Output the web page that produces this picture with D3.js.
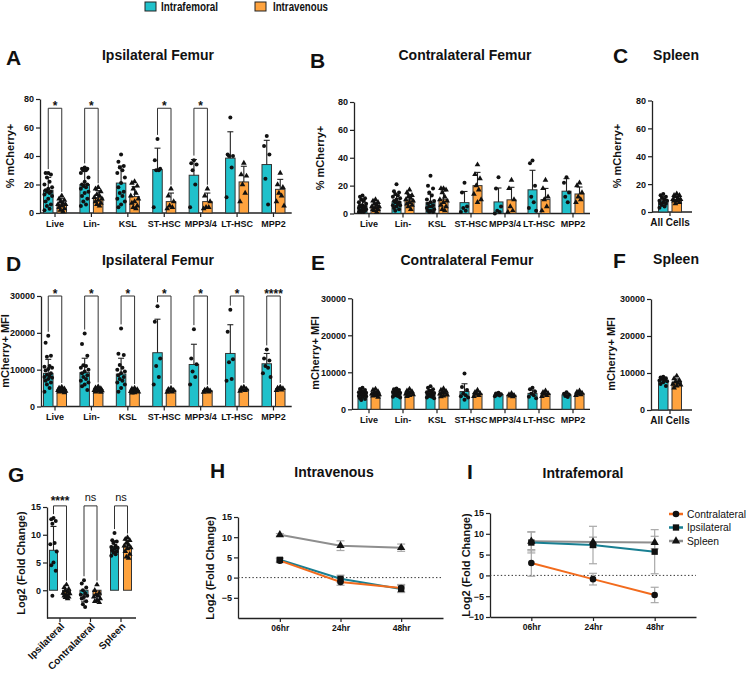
<!DOCTYPE html>
<html><head><meta charset="utf-8">
<script src="https://cdn.jsdelivr.net/npm/d3@7"></script>
<style>
body{margin:0;background:#fff;}
svg{display:block;font-family:"Liberation Sans",Arial,Helvetica,sans-serif;}
</style></head><body>
<svg id="c" width="748" height="676"></svg>
<script>
// ---------------- DATA ----------------
const catsFemur = ["Live","Lin-","KSL","ST-HSC","MPP3/4","LT-HSC","MPP2"];
const catsSpleen = ["All Cells"];
const legendNames = ["Intrafemoral","Intravenous"];

// A: Ipsilateral femur % mCherry+
const aIfMean = [16, 20, 21, 30.5, 26.5, 38.5, 34];
const aIfSD   = [9, 10, 12, 15, 11, 18.5, 17];
const aIvMean = [6.3, 10.7, 11.5, 8, 8, 21.8, 16.6];
const aIvSD   = [4, 5, 7, 6, 6, 11, 7];
const aIfPts = [[28,28,27,25,22,20,18,17,16,15,15,14,13,12,10,8,6,5,3,2],[32,31,31,30,30,28,25,22,20,20,19,18,17,15,14,12,10,8,6,5],[41,36,33,32,30,28,25,21,18,15,14,12,10,8,6,4],[52,37,31,30,30,4],[37,35,34,30,20,4],[67,41,40,40,32,11],[54,47,41,24,6]];
const aIvPts = [[12,10,9,8,7,6,6,5,4,3,2,1],[18,17,15,13,12,11,10,9,8,7,6,5],[22,21,19,17,14,12,10,8,7,5,4,3],[17,12,8,5,4,3],[17,12,8,4,4,3],[35,27,26,20,14,8],[28,20,18,14,12,8,5]];
const aSig = ["*","*","","*","*","",""];

// B: Contralateral femur % mCherry+
const bIfMean = [5.5, 8.5, 7.8, 7.8, 8.3, 17, 16];
const bIfSD   = [3.5, 4.5, 6, 8, 10, 14, 9];
const bIvMean = [5.3, 9.6, 10.2, 20, 9.8, 10, 14];
const bIvSD   = [2.8, 4, 6, 9.5, 9, 8, 5];
const bIfPts = [[13,12,11,10,9,8,7,6,6,5,5,4,4,3,3,2,2,1,1,1],[21,16,15,14,13,12,11,10,9,8,8,7,6,6,5,4,3,2],[27,20,18,15,13,10,9,8,7,6,5,5,4,3,2,2,1,1],[22,15,5,4,2,1],[26,18,5,2,1,0],[38,36,20,12,8,4,2],[26,22,15,12,8]];
const bIvPts = [[10,9,8,7,6,5,5,4,3,3,2,1],[17,15,13,12,11,10,9,8,7,6,5,3],[18,18,17,15,12,10,9,8,6,5,3,2],[35,28,25,20,17,14,10,8],[24,18,10,5,2,1],[24,18,12,10,5,2],[22,20,15,12,10,8]];

// C: Spleen % mCherry+
const cIfMean = [8], cIfSD = [3], cIvMean = [9], cIvSD = [2.5];
const cIfPts = [[13,12,11,10,9,8,8,7,6,6,5,4,3]];
const cIvPts = [[13,12,12,11,10,9,9,8,8,7,6]];

// D: Ipsilateral femur MFI
const dIfMean = [9000, 9200, 8800, 14600, 11400, 14400, 11600];
const dIfSD   = [3800, 3900, 4300, 9100, 5500, 7800, 2800];
const dIvMean = [4500, 4600, 4300, 4400, 4300, 4700, 4800];
const dIvSD   = [500, 500, 500, 500, 400, 500, 400];
const dIfPts = [[19200,17300,13800,13500,11000,10800,10500,10200,9800,9000,8600,8300,8000,7800,7500,7000,6500,6000,5000,4000],[19800,17000,13800,11200,11000,10500,10000,9500,9000,8500,8000,7500,7000,6500,6000,5500,4500],[21200,14300,14000,11300,10500,10000,9500,9000,8500,8000,7500,7000,6500,6000,5000,4000],[27200,23000,13000,11000,8000,6000],[21000,13000,11500,9500,8000,6000],[26300,20300,12800,12000,7500,7000],[15500,13000,12500,11000,10500,9000,8000]];
const dIvPts = [[5300,5000,4800,4600,4500,4400,4200,4100,4000,3800],[5400,5100,4900,4700,4500,4400,4300,4200,4000,3900],[5000,4800,4600,4400,4200,4100,4000,3800,3700],[5000,4700,4400,4200,4000,3900],[4800,4500,4300,4200,4000,3900],[5300,5000,4700,4500,4400,4200],[5300,5000,4900,4700,4500,4400]];
const dSig = ["*","*","*","*","*","*","****"];

// E: Contralateral femur MFI
const eIfMean = [4200, 4400, 4300, 4800, 4000, 4300, 3900];
const eIfSD   = [900, 800, 1000, 2100, 400, 900, 500];
const eIvMean = [4300, 4400, 4400, 4200, 3800, 4200, 4300];
const eIvSD   = [700, 600, 700, 600, 400, 600, 500];
const eIfPts = [[5800,5500,5200,5000,4800,4600,4500,4300,4200,4000,3900,3800,3600,3500,3300,3000,2800,2500],[5600,5400,5200,5000,4800,4700,4500,4400,4200,4000,3800,3600,3400,3200],[6200,5800,5400,5000,4800,4600,4400,4200,4000,3800,3600,3400,3200,3000],[9700,6000,5200,4300,3800,3500,3200,2600],[4500,4300,4100,3900,3700,3500],[5800,5400,4800,4200,3800,3400,3000],[4600,4200,3900,3600,3300]];
const eIvPts = [[5500,5200,4800,4500,4300,4200,4000,3800,3600,3300],[5500,5000,4800,4600,4400,4200,4000,3800,3500],[5600,5200,4900,4600,4400,4200,3900,3600,3400],[5200,4600,4300,4100,3800,3500],[4300,4000,3800,3600,3400],[5000,4600,4300,4100,3800,3500],[5000,4700,4400,4200,4000,3800]];

// F: Spleen MFI
const fIfMean = [8000], fIfSD = [800], fIvMean = [7500], fIvSD = [900];
const fIfPts = [[9000,8800,8600,8500,8200,8000,7800,7500,7000,6500]];
const fIvPts = [[9200,8500,8000,7600,7300,7000,6800,6500,6000]];

// G: Log2 fold change
const gCats = ["Ipsilateral","Contralateral","Spleen"];
const gIfMean = [7.2, -0.8, 7.9], gIfSD = [4.3, 1.3, 1.0];
const gIvMean = [-0.8, -0.9, 7.8], gIvSD = [0.6, 0.9, 1.2];
const gIfPts = [[13,12.8,12.5,12,8.5,8.3,7,5,4.5,3.5,-1],[1.8,1.2,0.5,0,-0.5,-1,-1.5,-2,-2.5,-3,-0.8,-1.2],[10.3,9,8.8,8.5,8,7.8,7.6,7.5,7.2,7,6.8,6.5,6.2]];
const gIvPts = [[1,0.5,0.2,0,-0.3,-0.5,-0.8,-1,-1.2,-1.5,-1.3,-0.6],[1,0,-0.5,-0.8,-1,-1.2,-1.5,-2,-2.2,-1.8],[9.5,9.2,9,8.5,8.2,8,7.7,7.5,7,6.5,6,5.8]];
const gSig = ["****","ns","ns"];

// H / I: time courses
const times = ["06hr","24hr","48hr"];
const seriesNames = ["Contralateral","Ipsilateral","Spleen"];
const hContra = [4.2, -1.1, -2.6], hContraErr = [0.5, 0.8, 0.9];
const hIpsi   = [4.4, -0.3, -2.8], hIpsiErr   = [0.5, 0.9, 0.9];
const hSpleen = [10.6, 7.9, 7.4],  hSpleenErr = [0.3, 1.2, 0.9];
const iContra = [3.0, -0.9, -4.7], iContraErr = [3.2, 1.4, 1.85];
const iIpsi   = [7.9, 7.3, 5.7],   iIpsiErr   = [2.5, 4.5, 5.3];
const iSpleen = [8.2, 8.0, 7.9],   iSpleenErr = [2.3, 1.2, 1.5];

// ---------------- STYLE ----------------
const TEAL = "#20C1CB", ORANGE = "#FFA33E";
const LINE_C = ["#F26B1D", "#197F92", "#8E8E8E"];
const AX = "#222";

const svg = d3.select("#c");

function styleAxis(sel){
  sel.select(".domain").attr("stroke",AX).attr("stroke-width",1.3);
  sel.selectAll(".tick line").attr("stroke",AX).attr("stroke-width",1.2);
  sel.selectAll(".tick text").attr("fill","#111").attr("font-size",9).attr("font-weight","bold");
}
const jit = [0,-2.8,2.8,-1.4,1.4,-4,4];

function barPanel(o){
  const g = svg.append("g");
  const x = d3.scaleBand().domain(o.cats).range(o.xr);
  const y = d3.scaleLinear().domain(o.yd).range(o.yr);
  const cx = c => x(c) + x.bandwidth()/2;
  const base = o.base !== undefined ? o.base : o.yd[0];
  const axY = y(o.yd[0]);
  const ya = g.append("g").attr("transform",`translate(${o.ax},0)`)
    .call(d3.axisLeft(y).tickValues(o.ticks).tickSize(4).tickSizeOuter(0).tickPadding(2).tickFormat(d=>d));
  styleAxis(ya);
  g.append("line").attr("x1",o.ax).attr("x2",o.xEnd).attr("y1",axY).attr("y2",axY).attr("stroke",AX).attr("stroke-width",1.3);
  o.cats.forEach(c=>{
    g.append("line").attr("x1",cx(c)).attr("x2",cx(c)).attr("y1",axY).attr("y2",axY+4).attr("stroke",AX).attr("stroke-width",1.2);
  });
  if(o.rotate){
    o.cats.forEach(c=>{
      g.append("text").attr("transform",`translate(${cx(c)+5},${axY+9}) rotate(-45)`)
        .attr("text-anchor","end").attr("font-size",o.catFont||11).attr("font-weight","bold").attr("fill","#111").text(c);
    });
  } else {
    o.cats.forEach(c=>{
      g.append("text").attr("x",cx(c)).attr("y",axY+13.5).attr("text-anchor","middle")
        .attr("font-size",o.catFont||9).attr("font-weight","bold").attr("fill","#111").text(c);
    });
  }
  const series = [
    {mean:o.ifMean, sd:o.ifSD, pts:o.ifPts, off:-o.off, fill:TEAL, tri:false},
    {mean:o.ivMean, sd:o.ivSD, pts:o.ivPts, off:o.off, fill:ORANGE, tri:true}
  ];
  series.forEach(s=>{
    o.cats.forEach((c,i)=>{
      const bx = cx(c)+s.off;
      const m = s.mean[i], sd = s.sd[i];
      const y1 = y(Math.max(m,base)), y2 = y(Math.min(m,base));
      g.append("rect").attr("x",bx-o.bw/2).attr("y",y1).attr("width",o.bw).attr("height",Math.max(0,y2-y1))
        .attr("fill",s.fill).attr("stroke","#333").attr("stroke-width",1);
      const e = m >= base ? m+sd : m-sd;
      g.append("line").attr("x1",bx).attr("x2",bx).attr("y1",y(m)).attr("y2",y(e)).attr("stroke","#222").attr("stroke-width",1.1);
      g.append("line").attr("x1",bx-3).attr("x2",bx+3).attr("y1",y(e)).attr("y2",y(e)).attr("stroke","#222").attr("stroke-width",1.1);
      const sorted = s.pts[i].slice().sort((a,b)=>b-a);
      sorted.forEach((v,k)=>{
        const px = bx + jit[k%jit.length]*o.bw/10;
        if(s.tri){
          g.append("path").attr("d",d3.symbol(d3.symbolTriangle).size(14)()).attr("transform",`translate(${px},${y(v)})`).attr("fill","#111");
        } else {
          g.append("circle").attr("cx",px).attr("cy",y(v)).attr("r",2).attr("fill","#111");
        }
      });
    });
  });
  if(o.sig){
    o.cats.forEach((c,i)=>{
      if(!o.sig[i]) return;
      const xl = cx(c)-o.off, xr = cx(c)+o.off;
      const topL = Math.max(d3.max(o.ifPts[i]), o.ifMean[i]+o.ifSD[i]);
      const topR = Math.max(d3.max(o.ivPts[i]), o.ivMean[i]+o.ivSD[i]);
      const yt = y(o.sigTop);
      g.append("path").attr("d",`M${xl},${y(topL)-4}V${yt}H${xr}V${y(topR)-4}`).attr("fill","none").attr("stroke","#333").attr("stroke-width",1);
      const ns = o.sig[i]==="ns";
      g.append("text").attr("x",(xl+xr)/2).attr("y", ns ? yt-5 : yt+ (o.starDy||2)).attr("text-anchor","middle")
        .attr("font-size", ns?11:12).attr("font-weight", ns?"normal":"bold").attr("fill","#111").text(o.sig[i]);
    });
  }
  return g;
}

function linePanel(o){
  const g = svg.append("g");
  const x = d3.scalePoint().domain(times).range(o.xr).padding(o.pad);
  const y = d3.scaleLinear().domain([-10,15]).range(o.yr);
  const ya = g.append("g").attr("transform",`translate(${o.xr[0]},0)`)
    .call(d3.axisLeft(y).tickValues(o.ticks).tickSize(4).tickSizeOuter(0).tickPadding(2));
  styleAxis(ya);
  const xa = g.append("g").attr("transform",`translate(0,${y(-10)})`)
    .call(d3.axisBottom(x).tickSize(4).tickSizeOuter(0).tickPadding(3));
  styleAxis(xa);
  xa.selectAll(".tick text").attr("font-size",8.5);
  g.append("line").attr("x1",o.xr[0]).attr("x2",o.xr[1]).attr("y1",y(0)).attr("y2",y(0))
    .attr("stroke","#333").attr("stroke-width",1).attr("stroke-dasharray","1.4,2.2");
  const ser = [
    {name:seriesNames[2], v:o.spleen, e:o.spleenErr, col:LINE_C[2], sym:d3.symbolTriangle, size:30},
    {name:seriesNames[1], v:o.ipsi, e:o.ipsiErr, col:LINE_C[1], sym:d3.symbolSquare, size:40},
    {name:seriesNames[0], v:o.contra, e:o.contraErr, col:LINE_C[0], sym:d3.symbolCircle, size:34}
  ];
  ser.forEach(s=>{
    times.forEach((t,i)=>{
      const lo = y(s.v[i]-s.e[i]), hi = y(s.v[i]+s.e[i]);
      g.append("line").attr("x1",x(t)).attr("x2",x(t)).attr("y1",lo).attr("y2",hi).attr("stroke","#a9a9a9").attr("stroke-width",1.2);
      [lo,hi].forEach(yy=>g.append("line").attr("x1",x(t)-4).attr("x2",x(t)+4).attr("y1",yy).attr("y2",yy).attr("stroke","#a9a9a9").attr("stroke-width",1.2));
    });
  });
  ser.forEach(s=>{
    g.append("path").datum(s.v).attr("d",d3.line().x((d,i)=>x(times[i])).y(d=>y(d)))
      .attr("fill","none").attr("stroke",s.col).attr("stroke-width",2);
  });
  ser.forEach(s=>{
    s.v.forEach((d,i)=>{
      g.append("path").attr("d",d3.symbol(s.sym).size(s.size)()).attr("transform",`translate(${x(times[i])},${y(d)})`).attr("fill","#111");
    });
  });
  if(o.legend){
    [ser[2],ser[1],ser[0]].forEach((s,k)=>{
      const ly = o.legend[1] + k*13.5;
      g.append("line").attr("x1",o.legend[0]).attr("x2",o.legend[0]+14).attr("y1",ly).attr("y2",ly).attr("stroke",s.col).attr("stroke-width",2.5);
      g.append("path").attr("d",d3.symbol(s.sym).size(s.size)()).attr("transform",`translate(${o.legend[0]+7},${ly})`).attr("fill","#111");
      g.append("text").attr("x",o.legend[0]+18).attr("y",ly+3.8).attr("font-size",10.3).attr("fill","#111").text(s.name);
    });
  }
}

function label(txt,x,y,size,anchor){
  svg.append("text").attr("x",x).attr("y",y).attr("font-size",size).attr("font-weight","bold")
    .attr("text-anchor",anchor||"start").attr("fill","#111").text(txt);
}
function ylabel(txt,x,y){
  svg.append("text").attr("transform",`translate(${x+4},${y}) rotate(-90)`).attr("text-anchor","middle")
    .attr("font-size",11).attr("font-weight","bold").attr("fill","#111").text(txt);
}

// ---------------- LEGEND ----------------
svg.append("rect").attr("x",145).attr("y",2).attr("width",11).attr("height",9).attr("fill",TEAL).attr("stroke","#222").attr("stroke-width",1);
svg.append("text").attr("x",161).attr("y",10.5).attr("font-size",12.5).attr("font-weight","bold").attr("textLength",57).attr("lengthAdjust","spacingAndGlyphs").attr("fill","#111").text(legendNames[0]);
svg.append("rect").attr("x",255).attr("y",2).attr("width",11).attr("height",9).attr("fill",ORANGE).attr("stroke","#222").attr("stroke-width",1);
svg.append("text").attr("x",273).attr("y",10.5).attr("font-size",12.5).attr("font-weight","bold").attr("textLength",55).attr("lengthAdjust","spacingAndGlyphs").attr("fill","#111").text(legendNames[1]);

// ---------------- PANELS ----------------
barPanel({cats:catsFemur, xr:[36.8,291.7], xEnd:291.7, ax:40, yd:[0,80], yr:[213,99], ticks:[0,20,40,60,80], bw:9.5, off:6.75,
  ifMean:aIfMean, ifSD:aIfSD, ifPts:aIfPts, ivMean:aIvMean, ivSD:aIvSD, ivPts:aIvPts, sig:aSig, sigTop:73.5});
barPanel({cats:catsFemur, xr:[352,590], xEnd:590, ax:354, yd:[0,80], yr:[213.5,102], ticks:[0,20,40,60,80], bw:9, off:6.5,
  ifMean:bIfMean, ifSD:bIfSD, ifPts:bIfPts, ivMean:bIvMean, ivSD:bIvSD, ivPts:bIvPts});
barPanel({cats:catsSpleen, xr:[652,688], xEnd:692, ax:652, yd:[0,80], yr:[212,100.5], ticks:[0,20,40,60,80], bw:9.5, off:6.75, catFont:10,
  ifMean:cIfMean, ifSD:cIfSD, ifPts:cIfPts, ivMean:cIvMean, ivSD:cIvSD, ivPts:cIvPts});
barPanel({cats:catsFemur, xr:[36.8,291.7], xEnd:291.7, ax:41, yd:[0,30000], yr:[406.5,296], ticks:[0,10000,20000,30000], bw:9.5, off:6.75,
  ifMean:dIfMean, ifSD:dIfSD, ifPts:dIfPts, ivMean:dIvMean, ivSD:dIvSD, ivPts:dIvPts, sig:dSig, sigTop:30000});
barPanel({cats:catsFemur, xr:[352,590], xEnd:590, ax:352, yd:[0,30000], yr:[409.3,298.3], ticks:[0,10000,20000,30000], bw:9, off:6.5,
  ifMean:eIfMean, ifSD:eIfSD, ifPts:eIfPts, ivMean:eIvMean, ivSD:eIvSD, ivPts:eIvPts});
barPanel({cats:catsSpleen, xr:[652,688], xEnd:692, ax:651, yd:[0,30000], yr:[410,299], ticks:[0,10000,20000,30000], bw:9.5, off:6.75, catFont:10,
  ifMean:fIfMean, ifSD:fIfSD, ifPts:fIfPts, ivMean:fIvMean, ivSD:fIvSD, ivPts:fIvPts});
barPanel({cats:gCats, xr:[44.75,136.25], xEnd:136, ax:47, yd:[-5,15], yr:[618,507], ticks:[0,5,10,15], bw:8, off:6.5, base:0, rotate:true, catFont:10,
  ifMean:gIfMean, ifSD:gIfSD, ifPts:gIfPts, ivMean:gIvMean, ivSD:gIvSD, ivPts:gIvPts, sig:gSig, sigTop:15.2, starDy:-1});

linePanel({xr:[238,443], pad:0.69, yr:[618,517], ticks:[-5,0,5,10,15],
  contra:hContra, contraErr:hContraErr, ipsi:hIpsi, ipsiErr:hIpsiErr, spleen:hSpleen, spleenErr:hSpleenErr});
linePanel({xr:[490,696], pad:0.67, yr:[617,513], ticks:[-10,-5,0,5,10,15], legend:[669,514],
  contra:iContra, contraErr:iContraErr, ipsi:iIpsi, ipsiErr:iIpsiErr, spleen:iSpleen, spleenErr:iSpleenErr});

// ---------------- TITLES / LETTERS ----------------
label("A",6,65,21); label("B",310,68,21); label("C",613,63,21);
label("D",6,271,21); label("E",311,270,21); label("F",613,268,21);
label("G",8,482,21); label("H",210,478,21); label("I",467,479,21);
label("Ipsilateral Femur",158,60,14,"middle");
label("Contralateral Femur",465,60,14,"middle");
label("Spleen",676,60,14,"middle");
label("Ipsilateral Femur",158,265,14,"middle");
label("Contralateral Femur",467,265,14,"middle");
label("Spleen",676,264,14,"middle");
label("Intravenous",334,477,14,"middle");
label("Intrafemoral",583,478,14,"middle");
ylabel("% mCherry+",10,156); ylabel("% mCherry+",320,158); ylabel("% mCherry+",617,156);
ylabel("mCherry+ MFI",5,351); ylabel("mCherry+ MFI",315,353); ylabel("mCherry+ MFI",611,354);
ylabel("Log2 (Fold Change)",21,563); ylabel("Log2 (Fold Change)",210,568); ylabel("Log2 (Fold Change)",466,565);
</script>
</body></html>
